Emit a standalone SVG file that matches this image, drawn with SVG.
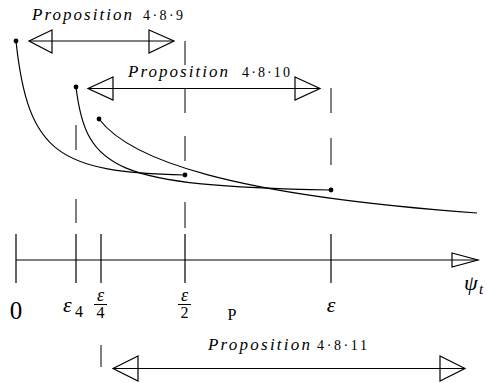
<svg xmlns="http://www.w3.org/2000/svg" width="487" height="383" viewBox="0 0 487 383">
<style>
.ln{stroke:#000;stroke-width:1.2;fill:none}
.th{stroke:#000;stroke-width:1;fill:none}
.hd{stroke:#000;stroke-width:1.2;fill:none;stroke-linejoin:miter}
.dot{fill:#000}
.it{font-family:"Liberation Serif","Times New Roman",serif;font-style:italic;fill:#000}
.rm{font-family:"Liberation Serif","Times New Roman",serif;fill:#000}
</style>
<rect width="487" height="383" fill="#fff"/>
<g id="connectors">
  <path class="th" d="M185,41V65 M185,88V113 M185,136V161 M185,202V228"/>
  <path class="th" d="M76,125V150 M76,199V223"/>
  <path class="th" d="M331,88V113 M331,138V165"/>
  <path class="th" d="M101,345V367"/>
  <path class="ln" d="M16,41 C28,155 60,172 185,175"/>
  <path class="ln" d="M76,87 C86,170 115,186 331,190"/>
  <path class="ln" d="M99,119 C130,160 230,195 477,213"/>
  <path class="ln" d="M29,41H174"/>
  <path class="hd" d="M52,30L29,41L52,53Z M149,30L174,41L149,53Z"/>
  <path class="ln" d="M88,88.5H320"/>
  <path class="hd" d="M113,77L88,88.5L113,100Z M295,77L320,88.5L295,100Z"/>
  <path class="ln" d="M113,368.5H465"/>
  <path class="hd" d="M138,356L113,368.5L138,381Z M440,356L465,368.5L440,381Z"/>
</g>
<g id="axis">
  <path class="ln" d="M16,260H478"/>
  <path class="hd" d="M452,253L478,260L452,267Z"/>
  <path class="ln" d="M16,234V283 M76,234V283 M101,234V283 M185,234V283 M331,234V283"/>
</g>
<g id="dots">
  <circle class="dot" cx="16" cy="41" r="2.4"/>
  <circle class="dot" cx="76" cy="87" r="2.4"/>
  <circle class="dot" cx="99" cy="119" r="2.4"/>
  <circle class="dot" cx="185" cy="175" r="2.4"/>
  <circle class="dot" cx="331" cy="190" r="2.4"/>
</g>
<g id="prop489">
  <text class="it" x="32" y="19.5" font-size="17" textLength="100">Proposition</text>
  <text class="rm" x="143" y="19.5" font-size="14" textLength="40">4·8·9</text>
</g>
<g id="prop4810">
  <text class="it" x="128" y="77" font-size="17" textLength="100">Proposition</text>
  <text class="rm" x="242" y="77" font-size="14" textLength="48">4·8·10</text>
</g>
<g id="prop4811">
  <text class="it" x="208" y="350" font-size="17" textLength="102">Proposition</text>
  <text class="rm" x="317" y="350" font-size="14" textLength="50">4·8·11</text>
</g>
<g id="labels">
  <text class="rm" x="16" y="319" font-size="25" text-anchor="middle">0</text>
  <text class="it" x="63" y="312" font-size="22">ε</text>
  <text class="rm" x="75" y="317" font-size="16">4</text>
  <text class="it" x="100.5" y="301" font-size="18" text-anchor="middle">ε</text>
  <path class="th" d="M94,304.5H107 M178,304.5H191"/>
  <text class="rm" x="100.5" y="318" font-size="16" text-anchor="middle">4</text>
  <text class="it" x="184.5" y="301" font-size="18" text-anchor="middle">ε</text>
  <text class="rm" x="184.5" y="318" font-size="16" text-anchor="middle">2</text>
  <text class="rm" x="232" y="320" font-size="16" text-anchor="middle">P</text>
  <text class="it" x="331" y="312" font-size="22" text-anchor="middle">ε</text>
  <text class="it" x="464" y="290" font-size="22">ψ</text>
  <text class="it" x="479" y="294" font-size="15">t</text>
</g>
</svg>
